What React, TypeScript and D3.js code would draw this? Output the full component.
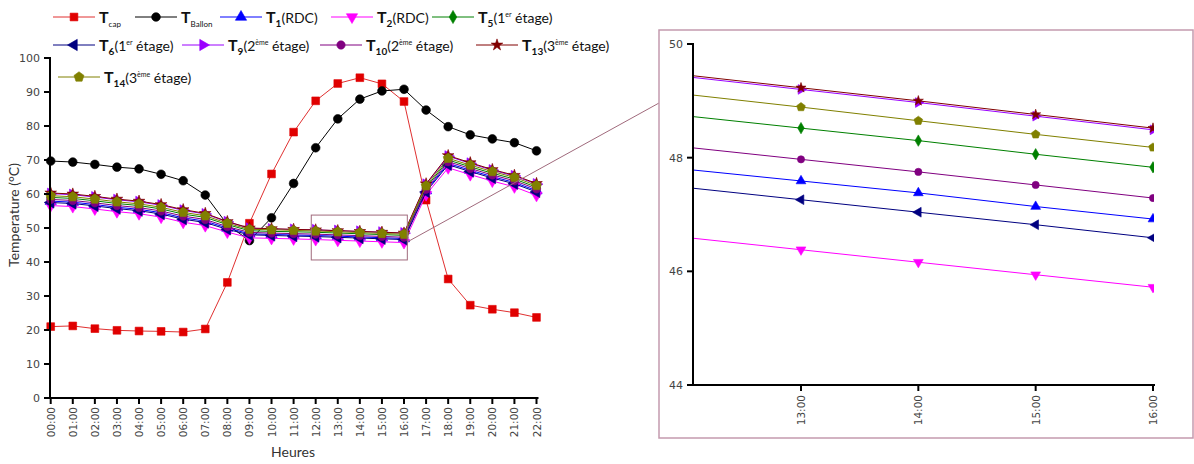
import React from "react";
import * as d3 from "d3";

const hours = ["00:00","01:00","02:00","03:00","04:00","05:00","06:00","07:00","08:00","09:00","10:00","11:00","12:00","13:00","14:00","15:00","16:00","17:00","18:00","19:00","20:00","21:00","22:00"];
const yTicks = [0,10,20,30,40,50,60,70,80,90,100];
const insetYTicks = [44,46,48,50];
const insetXTicks = [13,14,15,16];

const Tcap = [21.0,21.2,20.4,19.9,19.7,19.6,19.4,20.3,34.0,51.4,65.9,78.2,87.4,92.5,94.2,92.4,87.2,58.2,35.0,27.3,26.1,25.1,23.7];
const TBallon = [69.7,69.4,68.7,67.9,67.4,65.8,63.9,59.7,51.0,46.3,53.0,63.1,73.6,82.1,87.9,90.3,90.8,84.7,79.8,77.4,76.2,75.1,72.7];
const T1 = [57.9,57.6,56.9,56.1,55.5,54.5,53.0,52.0,50.0,48.3,48.1,47.95,47.80,47.59,47.38,47.14,46.92,61.0,69.0,67.0,65.1,63.4,61.0];
const T2 = [56.6,56.3,55.6,54.8,54.2,53.2,51.7,50.7,48.8,47.1,46.95,46.8,46.60,46.38,46.16,45.94,45.72,59.8,67.7,65.7,63.8,62.1,59.6];
const T5 = [59.0,58.7,58.0,57.2,56.6,55.6,54.1,53.1,51.0,49.2,49.0,48.9,48.74,48.52,48.30,48.06,47.83,61.9,70.0,68.0,66.1,64.4,62.0];
const T6 = [57.5,57.2,56.5,55.7,55.1,54.1,52.6,51.6,49.6,48.0,47.8,47.63,47.48,47.26,47.04,46.82,46.59,60.6,68.6,66.6,64.7,63.0,60.6];
const T9 = [60.1,59.8,59.1,58.3,57.7,56.7,55.2,54.1,51.8,49.9,49.7,49.55,49.43,49.20,48.97,48.73,48.49,62.8,71.1,69.0,67.0,65.3,62.9];
const T10 = [58.4,58.1,57.4,56.6,56.0,55.0,53.5,52.5,50.4,48.7,48.5,48.35,48.19,47.97,47.75,47.52,47.29,61.4,69.5,67.5,65.6,63.9,61.5];
const T13 = [60.3,60.0,59.3,58.5,57.9,56.9,55.4,54.3,51.9,50.0,49.8,49.6,49.46,49.23,49.00,48.76,48.52,63.0,71.3,69.2,67.2,65.5,63.1];
const T14 = [59.5,59.2,58.5,57.7,57.1,56.1,54.6,53.6,51.4,49.6,49.5,49.3,49.12,48.89,48.65,48.41,48.18,62.4,70.5,68.5,66.6,64.9,62.5];

const pentagon = {
  draw(ctx: any, size: number) {
    const r = Math.sqrt(size / (2.5 * Math.sin((2 * Math.PI) / 5)));
    for (let i = 0; i < 5; i++) {
      const a = -Math.PI / 2 + (i * 2 * Math.PI) / 5;
      const px = r * Math.cos(a), py = r * Math.sin(a);
      if (i === 0) ctx.moveTo(px, py); else ctx.lineTo(px, py);
    }
    ctx.closePath();
  },
};

type Series = { key: string; values: number[]; color: string; line: string; symbol: any; rot: number; size: number; sub: string; subBold: boolean; rest: string; sup?: string; after?: string; };

const series: Series[] = [
  { key: "cap", values: Tcap, color: "#e00000", line: "#e03030", symbol: d3.symbolSquare, rot: 0, size: 60, sub: "cap", subBold: false, rest: "" },
  { key: "ballon", values: TBallon, color: "#000000", line: "#000000", symbol: d3.symbolCircle, rot: 0, size: 60, sub: "Ballon", subBold: false, rest: "" },
  { key: "t1", values: T1, color: "#0000ff", line: "#0000ff", symbol: d3.symbolTriangle, rot: 0, size: 55, sub: "1", subBold: true, rest: "(RDC)" },
  { key: "t2", values: T2, color: "#ff00ff", line: "#ff00ff", symbol: d3.symbolTriangle, rot: 180, size: 55, sub: "2", subBold: true, rest: "(RDC)" },
  { key: "t5", values: T5, color: "#008000", line: "#008000", symbol: d3.symbolDiamond, rot: 0, size: 50, sub: "5", subBold: true, rest: "(1", sup: "er", after: " étage)" },
  { key: "t6", values: T6, color: "#000080", line: "#000080", symbol: d3.symbolTriangle, rot: -90, size: 55, sub: "6", subBold: true, rest: "(1", sup: "er", after: " étage)" },
  { key: "t9", values: T9, color: "#9a00ff", line: "#9a00ff", symbol: d3.symbolTriangle, rot: 90, size: 55, sub: "9", subBold: true, rest: "(2", sup: "ème", after: " étage)" },
  { key: "t10", values: T10, color: "#800080", line: "#800080", symbol: d3.symbolCircle, rot: 0, size: 55, sub: "10", subBold: true, rest: "(2", sup: "ème", after: " étage)" },
  { key: "t13", values: T13, color: "#800000", line: "#800000", symbol: d3.symbolStar, rot: 0, size: 42, sub: "13", subBold: true, rest: "(3", sup: "ème", after: " étage)" },
  { key: "t14", values: T14, color: "#808000", line: "#808000", symbol: pentagon, rot: 0, size: 65, sub: "14", subBold: true, rest: "(3", sup: "ème", after: " étage)" },
];

const legendPos: { [k: string]: [number, number] } = {
  cap: [53, 17], ballon: [135, 17], t1: [220, 17], t2: [331, 17], t5: [432, 17],
  t6: [53, 45], t9: [182, 45], t10: [320, 45], t13: [476, 45],
  t14: [58, 77],
};

const FONT = "Lato, 'Liberation Sans', sans-serif";
const TICKFONT = "'DejaVu Sans', sans-serif";

function Marker({ s, x, y, scale = 1 }: { s: Series; x: number; y: number; scale?: number }) {
  const d = d3.symbol().type(s.symbol).size(s.size * scale)() as string;
  return <path d={d} transform={`translate(${x},${y}) rotate(${s.rot})`} fill={s.color} stroke={s.color} strokeWidth={0.6} />;
}

function LegendItem({ s }: { s: Series }) {
  const [lx, ly] = legendPos[s.key];
  const len = 42;
  return (
    <g>
      <line x1={lx} x2={lx + len} y1={ly} y2={ly} stroke={s.line} strokeWidth={1} />
      <Marker s={s} x={lx + len / 2} y={ly} />
      <text x={lx + len + 4} y={ly + 6} fontFamily={FONT} fill="#111">
        <tspan fontWeight="bold" fontSize={16}>T</tspan>
        <tspan fontSize={s.subBold ? 10 : 8} fontWeight={s.subBold ? "bold" : "normal"} dy={4}>{s.sub}</tspan>
        {s.rest && <tspan fontSize={14} dy={-4}>{s.rest}</tspan>}
        {s.sup && <tspan fontSize={7} dy={-6}>{s.sup}</tspan>}
        {s.sup && <tspan fontSize={14} dy={6}>{s.after}</tspan>}
      </text>
    </g>
  );
}

export default function App() {
  const x = d3.scaleLinear().domain([0, 22]).range([50.7, 536.5]);
  const y = d3.scaleLinear().domain([0, 100]).range([398, 58]);
  const xi = d3.scaleLinear().domain([13, 16]).range([801, 1153]);
  const yi = d3.scaleLinear().domain([44, 50]).range([385, 44]);

  const lineMain = (vals: number[]) => d3.line<number>().x((_, i) => x(i)).y((v) => y(v))(vals) as string;
  const lineInset = (vals: number[]) => d3.line<number>().x((_, i) => xi(i + 12)).y((v) => yi(v))(vals.slice(12, 17)) as string;

  const insetLeft = 693, insetRight = 1154;
  const boxX0 = x(11.8), boxX1 = x(16.15), boxY0 = y(53.8), boxY1 = y(40.6);

  return (
    <svg width={1194} height={464} style={{ position: "absolute", left: 0, top: 0, background: "#fff" }}>
      <defs>
        <clipPath id="insetClip">
          <rect x={insetLeft} y={yi(50) - 2} width={insetRight - insetLeft} height={yi(44) - yi(50) + 2} />
        </clipPath>
      </defs>
      <rect width={1194} height={464} fill="#fff" />

      {series.map((s) => (
        <g key={s.key}>
          <path d={lineMain(s.values)} fill="none" stroke={s.line} strokeWidth={1} />
          {s.values.map((v, i) => <Marker key={i} s={s} x={x(i)} y={y(v)} />)}
        </g>
      ))}

      <line x1={50} x2={50} y1={y(100) - 1} y2={y(0) + 1} stroke="#000" strokeWidth={2} />
      <line x1={49} x2={538.5} y1={y(0)} y2={y(0)} stroke="#000" strokeWidth={2} />
      {yTicks.map((t) => (
        <g key={t}>
          <line x1={44} x2={50} y1={y(t)} y2={y(t)} stroke="#000" strokeWidth={2} />
          <text x={40} y={y(t) + 4} textAnchor="end" fontSize={11} fontFamily={TICKFONT} fill="#444">{t}</text>
        </g>
      ))}
      {hours.map((h, i) => (
        <g key={h}>
          <line x1={x(i)} x2={x(i)} y1={y(0)} y2={y(0) + 6} stroke="#000" strokeWidth={2} />
          <text transform={`translate(${x(i) + 4},${y(0) + 9}) rotate(-90)`} textAnchor="end" fontSize={10.5} fontFamily={TICKFONT} fill="#444">{h}</text>
        </g>
      ))}
      <text transform={`translate(19,215) rotate(-90)`} textAnchor="middle" fontSize={14} fontFamily={FONT} fill="#333">Temperature (°C)</text>
      <text x={293} y={457} textAnchor="middle" fontSize={14} fontFamily={FONT} fill="#333">Heures</text>

      <rect x={boxX0} y={boxY0} width={boxX1 - boxX0} height={boxY1 - boxY0} fill="none" stroke="#a06a7c" strokeWidth={1} />
      <line x1={boxX1} y1={y(45.9)} x2={659} y2={103} stroke="#a06a7c" strokeWidth={1} />

      <rect x={659} y={30} width={534} height={408} fill="#fff" stroke="#c49aae" strokeWidth={1.5} />
      <g clipPath="url(#insetClip)">
        {series.map((s) => (
          <g key={s.key}>
            <path d={lineInset(s.values)} fill="none" stroke={s.line} strokeWidth={1} />
            {s.values.slice(13, 17).map((v, j) => <Marker key={j} s={s} x={xi(13 + j)} y={yi(v)} scale={0.75} />)}
          </g>
        ))}
      </g>
      <line x1={insetLeft} x2={insetLeft} y1={yi(50) - 1} y2={yi(44) + 1} stroke="#000" strokeWidth={2} />
      <line x1={insetLeft - 1} x2={insetRight + 1} y1={yi(44)} y2={yi(44)} stroke="#000" strokeWidth={2} />
      {insetYTicks.map((t) => (
        <g key={t}>
          <line x1={insetLeft - 6} x2={insetLeft} y1={yi(t)} y2={yi(t)} stroke="#000" strokeWidth={2} />
          <text x={insetLeft - 10} y={yi(t) + 4} textAnchor="end" fontSize={11} fontFamily={TICKFONT} fill="#444">{t}</text>
        </g>
      ))}
      {insetXTicks.map((t) => (
        <g key={t}>
          <line x1={xi(t)} x2={xi(t)} y1={yi(44)} y2={yi(44) + 6} stroke="#000" strokeWidth={2} />
          <text transform={`translate(${xi(t) + 4},${yi(44) + 10}) rotate(-90)`} textAnchor="end" fontSize={10.5} fontFamily={TICKFONT} fill="#444">{hours[t]}</text>
        </g>
      ))}

      {series.map((s) => <LegendItem key={s.key} s={s} />)}
    </svg>
  );
}
